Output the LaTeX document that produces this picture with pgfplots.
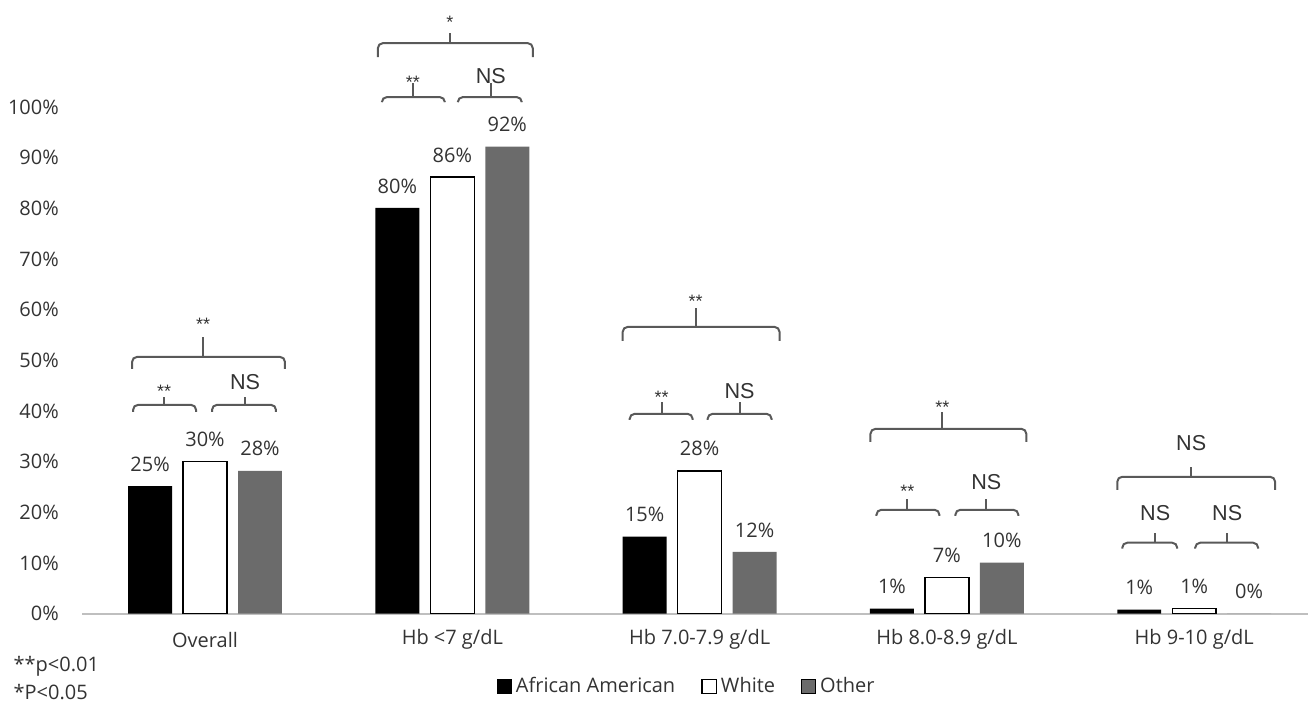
\documentclass[border=0pt]{standalone}
\usepackage{pgfplots}
\pgfplotsset{compat=1.18}
\usepackage{fontspec}
\setmainfont{Open Sans}
\newfontfamily\arialf{Liberation Sans}
\definecolor{txt}{HTML}{333333}
\definecolor{barg}{HTML}{6B6B6B}
\definecolor{brk}{HTML}{595959}
\definecolor{base}{HTML}{BFBFBF}
% bracket: x1 x2 xc yh yend ytop (pixel coordinates of the reference)
\newcommand{\br}[6]{%
  \draw[brk, line width=1pt, rounded corners=2.5pt]
    (axis cs:{(#1-205)/247.5},{(614-#5)/5.07}) --
    (axis cs:{(#1-205)/247.5},{(614-#4)/5.07}) --
    (axis cs:{(#2-205)/247.5},{(614-#4)/5.07}) --
    (axis cs:{(#2-205)/247.5},{(614-#5)/5.07});
  \draw[brk, line width=1pt]
    (axis cs:{(#3-205)/247.5},{(614-#4)/5.07}) --
    (axis cs:{(#3-205)/247.5},{(614-#6)/5.07});
}
% label: x  baseline-y  text
\newcommand{\lab}[3]{%
  \node[anchor=base, inner sep=0pt, text=txt, font=\arialf\fontsize{10.8}{12}\selectfont]
    at (axis cs:{(#1-205)/247.5},{(614-#2)/5.07}) {#3};
}
\newcommand{\labs}[3]{%
  \node[anchor=base, inner sep=0pt, text=txt, font=\arialf\fontsize{9}{10}\selectfont]
    at (axis cs:{(#1-205)/247.5},{(614-#2)/5.07}) {#3};
}
\begin{document}
\begin{tikzpicture}
\begin{axis}[
  scale only axis,
  width=654.5pt, height=353pt,
  xmin=-0.8283, xmax=4.4606,
  ymin=-18.146, ymax=121.10,
  clip=false,
  axis line style={draw=none},
  major tick length=0pt,
  ybar, bar width=22pt,
  ytick={0,10,...,100},
  yticklabel={\pgfmathprintnumber{\tick}\%},
  yticklabel style={anchor=east, inner sep=0pt, xshift=29.5pt, text=txt,
     font=\fontsize{10}{12}\selectfont},
  /pgf/number format/assume math mode=true,
  xtick={0,1,2,3,4},
  xticklabels={Overall, Hb <7 g/dL, Hb 7.0-7.9 g/dL, Hb 8.0-8.9 g/dL, Hb 9-10 g/dL},
  xticklabel style={anchor=center, inner sep=0pt, yshift=33pt, text=txt,
     font=\fontsize{10}{12}\selectfont},
  nodes near coords={\pgfmathprintnumber[fixed,precision=0]{\pgfplotspointmeta}\%},
  every node near coord/.append style={anchor=center, yshift=11pt, text=txt,
     font=\fontsize{10}{12}\selectfont},
  legend columns=3,
  legend style={at={(0.5256,0.027)}, anchor=center, draw=none, fill=none,
     font=\fontsize{10}{12}\selectfont, text=txt,
     /tikz/every even column/.append style={column sep=11pt},
     legend cell align=left},
  legend image code/.code={\draw[#1] (0pt,-3.6pt) rectangle (7.2pt,3.6pt);},
]
\draw[base, line width=0.9pt] (axis cs:-0.497,0) -- (axis cs:4.4606,0);
\addplot[fill=black, draw=none, bar shift=-27.5pt]
  coordinates {(0,25.2) (1,80.1) (2,15.2) (3,1.0) (4,0.8)};
\addlegendentry{African American}
\addplot[fill=white, draw=black, line width=0.7pt, bar shift=0pt]
  coordinates {(0,30.0) (1,86.2) (2,28.2) (3,7.1) (4,1.0)};
\addlegendentry{White}
\addplot[fill=barg, draw=none, bar shift=27.5pt]
  coordinates {(0,28.2) (1,92.2) (2,12.2) (3,10.1) (4,0)};
\addlegendentry{Other}
% Overall
\br{132}{285}{203}{357}{369}{337}
\labs{203}{331}{**}
\br{133}{196}{164}{405}{412}{397}
\labs{164}{398}{**}
\br{212}{276}{245}{405}{412}{397}
\lab{245}{390}{NS}
% Hb <7
\br{378}{533}{450}{43}{57}{33}
\labs{450}{28}{*}
\br{382}{445}{413}{97}{102}{83}
\labs{413}{88}{**}
\br{458}{522}{491}{97}{102}{83}
\lab{491}{83}{NS}
% Hb 7.0-7.9
\br{623}{780}{696}{327}{341}{308}
\labs{696}{308}{**}
\br{630}{693}{662}{414}{420}{402}
\labs{662}{404}{**}
\br{708}{772}{740}{414}{420}{402}
\lab{740}{399}{NS}
% Hb 8.0-8.9
\br{871}{1027}{943}{429}{442}{412}
\labs{943}{414}{**}
\br{877}{940}{908}{510}{516}{499}
\labs{908}{498}{**}
\br{956}{1019}{987}{510}{516}{499}
\lab{987}{490}{NS}
% Hb 9-10
\br{1118}{1276}{1192}{477}{490}{467}
\lab{1192}{451}{NS}
\br{1123}{1178}{1156}{543}{549}{533}
\lab{1156}{521}{NS}
\br{1196}{1259}{1228}{543}{549}{533}
\lab{1228}{521}{NS}
% significance key
\node[anchor=west, inner sep=0pt, text=txt, font=\fontsize{10}{12}\selectfont]
  at (axis cs:{(13-205)/247.5},{(614-667)/5.07}) {**p<0.01};
\node[anchor=west, inner sep=0pt, text=txt, font=\fontsize{10}{12}\selectfont]
  at (axis cs:{(13-205)/247.5},{(614-692)/5.07}) {*P<0.05};
\end{axis}
\end{tikzpicture}
\end{document}
